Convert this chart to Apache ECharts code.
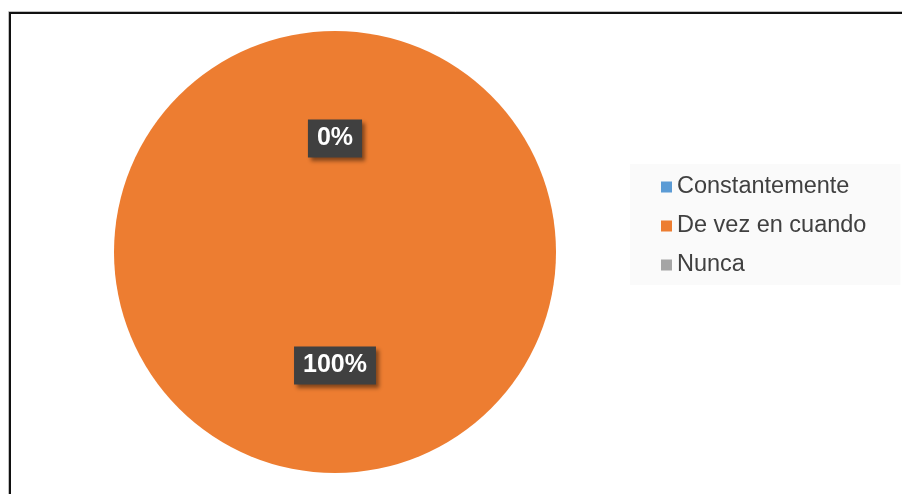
<!DOCTYPE html>
<html>
<head>
<meta charset="utf-8">
<script src="https://cdn.jsdelivr.net/npm/echarts@6/dist/echarts.min.js"></script>
<style>
  html, body { margin: 0; padding: 0; background: #ffffff; }
  #chart { width: 902px; height: 494px; }
</style>
</head>
<body>
<div id="chart"></div>
<script>
// Answer categories and their counts (share of responses)
const categories = ['Constantemente', 'De vez en cuando', 'Nunca'];
const values = [0, 100, 0];
const colors = ['#5B9BD5', '#ED7D31', '#A5A5A5'];

const chart = echarts.init(document.getElementById('chart'), null, { renderer: 'canvas' });

const option = {
  backgroundColor: '#ffffff',
  animation: false,
  graphic: [
    // chart frame (outer soft edge + dark line)
    { type: 'rect', silent: true, shape: { x: 8.5, y: 11.5, width: 1000, height: 1000 },
      style: { fill: 'none', stroke: '#c0c0c0', lineWidth: 1 } },
    { type: 'rect', silent: true, shape: { x: 10, y: 13, width: 1000, height: 1000 },
      style: { fill: 'none', stroke: '#111111', lineWidth: 2 } }
  ],
  legend: {
    orient: 'vertical',
    left: 630,
    top: 164,
    padding: [11, 34, 8, 31],
    backgroundColor: '#fafafa',
    itemWidth: 11,
    itemHeight: 11,
    itemGap: 15,
    icon: 'rect',
    data: categories,
    textStyle: {
      fontFamily: 'Liberation Sans, Arial, sans-serif',
      fontSize: 23.5,
      color: '#404040'
    }
  },
  series: [{
    type: 'pie',
    center: [335, 252],
    radius: 221,
    startAngle: 90,
    clockwise: true,
    avoidLabelOverlap: false,
    color: colors,
    data: categories.map((name, i) => ({ name, value: values[i] })),
    itemStyle: { borderWidth: 0 },
    label: {
      show: true,
      position: 'inside',
      formatter: '{d}%',
      fontFamily: 'Liberation Sans, Arial, sans-serif',
      fontWeight: 'bold',
      fontSize: 25,
      color: '#ffffff',
      backgroundColor: '#404040',
      padding: [7, 9, 6, 9],
      shadowColor: 'rgba(0,0,0,0.45)',
      shadowBlur: 4,
      shadowOffsetX: 3,
      shadowOffsetY: 3
    },
    labelLine: { show: false },
    emphasis: { disabled: true }
  }]
};

chart.setOption(option);
</script>
</body>
</html>
